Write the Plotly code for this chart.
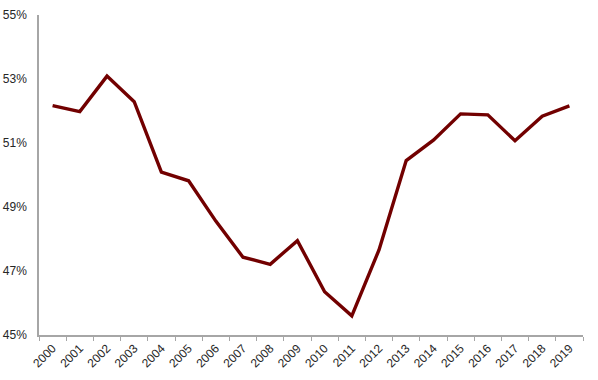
import plotly.graph_objects as go

years = [str(y) for y in range(2000, 2020)]
values = [52.17, 51.98, 53.09, 52.29, 50.09, 49.82, 48.56, 47.43, 47.21, 47.95,
          46.35, 45.60, 47.66, 50.45, 51.09, 51.91, 51.88, 51.07, 51.84, 52.16]
y_ticks = [45, 47, 49, 51, 53, 55]
y_labels = [f"{v}%" for v in y_ticks]

FONT = "Liberation Sans Narrow, Arial Narrow, Liberation Sans, Arial, sans-serif"

fig = go.Figure()
fig.add_trace(go.Scatter(x=years, y=values, mode="lines",
                         line=dict(color="#720000", width=3.4),
                         hoverinfo="x+y"))

fig.update_layout(
    width=598, height=380,
    margin=dict(l=39, r=15, t=15, b=45),
    paper_bgcolor="white", plot_bgcolor="white",
    showlegend=False,
    font=dict(family=FONT, size=12, color="#262626"),
)
fig.update_xaxes(type="category", range=[-0.5, 19.5], tickson="boundaries",
                 ticks="outside", ticklen=4, tickcolor="#A6A6A6", tickwidth=1,
                 showline=True, linecolor="#A6A6A6", linewidth=1.5,
                 showgrid=False, tickangle=-45, tickfont=dict(size=12),
                 automargin=False)
fig.update_yaxes(range=[45, 55], tickvals=y_ticks, ticktext=y_labels,
                 showline=True, linecolor="#A6A6A6", linewidth=1.5,
                 showgrid=False, zeroline=False, ticks="", ticklabelstandoff=8,
                 tickfont=dict(size=12), automargin=False)

fig.write_html("out.html",
               config={"displayModeBar": False},
               post_script="document.body.style.margin='0';")
